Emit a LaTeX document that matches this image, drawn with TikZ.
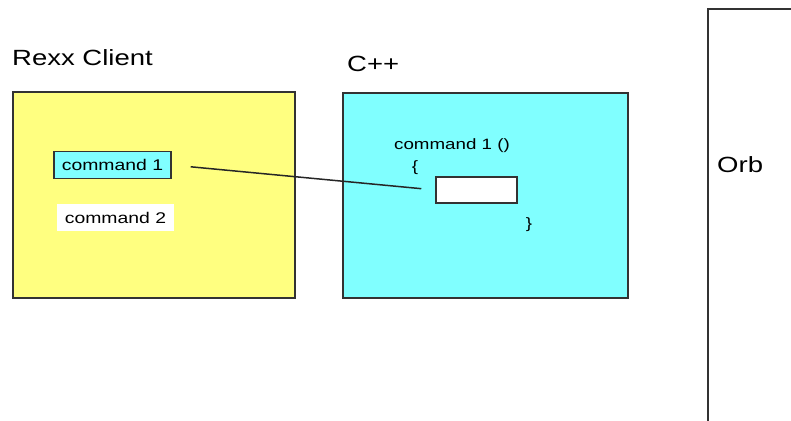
\documentclass[tikz,border=0pt]{standalone}
\usepackage{fontspec}
\setmainfont{Liberation Sans}
\newfontfamily\widesans[FakeStretch=1.25]{Liberation Sans}
\usetikzlibrary{positioning}

\definecolor{paleyellow}{RGB}{255,255,128}
\definecolor{palecyan}{RGB}{128,255,255}

\begin{document}
\begin{tikzpicture}[
    x=1pt, y=1pt,
    panel/.style  = {rectangle, draw=black!80, line width=1.6pt, inner sep=0pt},
    cmd/.style    = {rectangle, inner sep=0pt, minimum width=117pt, minimum height=27pt,
                     font=\widesans\fontsize{15.5}{17}\selectfont},
    title/.style  = {anchor=west, inner sep=0pt, font=\widesans\fontsize{22}{25}\selectfont},
    code/.style   = {inner sep=0pt, font=\widesans\fontsize{15}{17}\selectfont},
    link/.style   = {draw=black!85, line width=1.5pt}
]
\useasboundingbox (0,0) rectangle (791,420);
\clip (0,0) rectangle (791,420);

%% -- Rexx client side -------------------------------------
\node[panel, fill=paleyellow, minimum width=282pt, minimum height=206pt] (rexx) at (154,225) {};
\node[title] (rexx_lbl) at (12,362) {Rexx Client};
\node[cmd, fill=palecyan, draw=black!80, line width=1.6pt] (cmd1) at (112.5,255) {command 1};
\node[cmd, fill=white] (cmd2) at (115.5,202) {command 2};

%% -- C++ side ---------------------------------------------
\node[panel, fill=palecyan, minimum width=285pt, minimum height=205pt] (cpp) at (485.5,224.5) {};
\node[title] (cpp_lbl) at (347,356) {C++};
\node[code] (sig) at (452,274) {command 1 ()};
\node[code] (open) at (415,252) {\{};
\node[panel, fill=white, minimum width=81pt, minimum height=26pt] (slot) at (476.5,230) {};
\node[code] (close) at (529,195) {\}};

%% -- Orb --------------------------------------------------
\node[panel, fill=white, minimum width=120pt, minimum height=430pt, anchor=north west] (orb) at (707,412) {};
\node[title] (orb_lbl) at (717,255) {Orb};

%% -- call from Rexx to C++ --------------------------------
\draw[link, shorten <=19pt, shorten >=14pt] (cmd1.east) -- (slot.west);

\end{tikzpicture}
\end{document}
